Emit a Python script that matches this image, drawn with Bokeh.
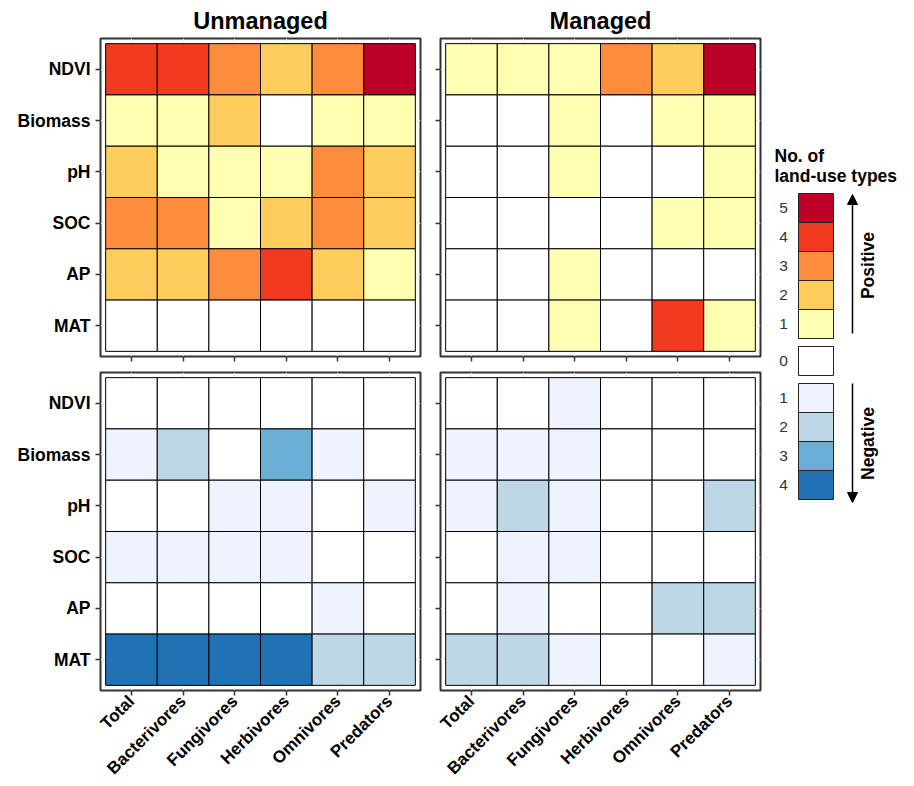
import math
from bokeh.plotting import figure
from bokeh.models import (FactorRange, Range1d, ColumnDataSource, Label, Arrow, NormalHead,
                          CustomLabelingPolicy)
from bokeh.layouts import row, column
from bokeh.embed import file_html
from bokeh.resources import INLINE

# ---------------- data ----------------
groups = ["Total", "Bacterivores", "Fungivores", "Herbivores", "Omnivores", "Predators"]
drivers = ["NDVI", "Biomass", "pH", "SOC", "AP", "MAT"]

# rows follow `drivers`, columns follow `groups`
unmanaged_pos = [
    [4, 4, 3, 2, 3, 5],
    [1, 1, 2, 0, 1, 1],
    [2, 1, 1, 1, 3, 2],
    [3, 3, 1, 2, 3, 2],
    [2, 2, 3, 4, 2, 1],
    [0, 0, 0, 0, 0, 0],
]
managed_pos = [
    [1, 1, 1, 3, 2, 5],
    [0, 0, 1, 0, 1, 1],
    [0, 0, 1, 0, 0, 1],
    [0, 0, 0, 0, 1, 1],
    [0, 0, 1, 0, 0, 0],
    [0, 0, 1, 0, 4, 1],
]
unmanaged_neg = [
    [0, 0, 0, 0, 0, 0],
    [1, 2, 0, 3, 1, 0],
    [0, 0, 1, 1, 0, 1],
    [1, 1, 1, 1, 0, 0],
    [0, 0, 0, 0, 1, 0],
    [4, 4, 4, 4, 2, 2],
]
managed_neg = [
    [0, 0, 1, 0, 0, 0],
    [1, 1, 1, 0, 0, 0],
    [1, 2, 1, 0, 0, 2],
    [0, 1, 1, 0, 0, 0],
    [0, 1, 0, 0, 2, 2],
    [2, 2, 1, 0, 0, 1],
]

pos_colors = ["#ffffff", "#ffffb2", "#fecc5c", "#fd8d3c", "#f03b20", "#bd0026"]  # 0..5
neg_colors = ["#ffffff", "#eff3ff", "#bdd7e7", "#6baed6", "#2171b5"]  # 0..4

pos_levels = [5, 4, 3, 2, 1]
zero_level = [0]
neg_levels = [1, 2, 3, 4]

panel_titles = ["Unmanaged", "Managed"]
legend_title = ["No. of", "land-use types"]
arrow_labels = ["Positive", "Negative"]

FONT = "Liberation Sans"
FW, FH = 320, 318

hide_labels = CustomLabelingPolicy(code="""
    for (const i of indices) { indices.unset(i) }
    return indices
""")


def panel(mat, palette, title=None, xlabels=False, ylabels=False,
          top=0, bottom=0, left=0, right=0):
    xs, ys, cs = [], [], []
    for i, d in enumerate(drivers):
        for j, g in enumerate(groups):
            xs.append(g)
            ys.append(d)
            cs.append(palette[mat[i][j]])
    src = ColumnDataSource(dict(x=xs, y=ys, c=cs))
    p = figure(
        x_range=FactorRange(factors=groups, range_padding=0.1, range_padding_units="absolute"),
        y_range=FactorRange(factors=drivers[::-1], range_padding=0.1, range_padding_units="absolute"),
        frame_width=FW, frame_height=FH,
        min_border_top=top, min_border_bottom=bottom,
        min_border_left=left, min_border_right=right,
        toolbar_location=None, output_backend="svg", title=title,
    )
    p.rect(x="x", y="y", width=1, height=1, fill_color="c", line_color="black",
           line_width=1, source=src)
    p.outline_line_color = "#333333"
    p.outline_line_width = 2
    p.background_fill_color = "white"
    p.border_fill_color = "white"
    p.grid.grid_line_color = "#ebebeb"
    p.grid.grid_line_width = 1
    for ax in (p.xaxis[0], p.yaxis[0]):
        ax.axis_line_color = None
        ax.major_tick_in = 0
        ax.major_tick_out = 5
        ax.major_tick_line_color = "#333333"
        ax.major_tick_line_width = 1.5
        ax.minor_tick_line_color = None
        ax.major_label_text_font = FONT
        ax.major_label_text_font_style = "bold"
        ax.major_label_text_color = "black"
        ax.major_label_text_font_size = "17px"
        ax.major_label_standoff = 5
    p.yaxis[0].major_label_text_font_size = "17.5px"
    if xlabels:
        p.xaxis[0].major_label_orientation = math.pi / 4
        p.xaxis[0].major_label_standoff = 3
    else:
        p.xaxis[0].major_label_text_font_size = "1px"
        p.xaxis[0].major_label_standoff = 0
        p.xaxis[0].major_label_policy = hide_labels
    if not ylabels:
        p.yaxis[0].major_label_text_font_size = "1px"
        p.yaxis[0].major_label_standoff = 0
        p.yaxis[0].major_label_policy = hide_labels
    if title:
        p.title.align = "center"
        p.title.text_font = FONT
        p.title.text_font_style = "bold"
        p.title.text_font_size = "23.5px"
        p.title.text_color = "black"
        p.title.standoff = 10
    return p


tl = panel(unmanaged_pos, pos_colors, panel_titles[0], False, True, top=38, bottom=8, left=100, right=3)
tr = panel(managed_pos, pos_colors, panel_titles[1], False, False, top=38, bottom=8, left=17, right=3)
bl = panel(unmanaged_neg, neg_colors, None, True, True, top=7, bottom=90, left=100, right=3)
br = panel(managed_neg, neg_colors, None, True, False, top=7, bottom=90, left=17, right=3)

# ---------------- legend ----------------
LW, LH = 145, 778
leg = figure(width=LW, height=LH, x_range=Range1d(0, LW), y_range=Range1d(LH, 0),
             min_border=0, toolbar_location=None, output_backend="svg")
leg.axis.visible = False
leg.grid.visible = False
leg.outline_line_color = None

key_x = 52.5
key_w, key_h = 35, 29
pos_y = [193 + key_h / 2 + k * key_h for k in range(len(pos_levels))]
zero_y = [346 + key_h / 2]
neg_y = [383 + key_h / 2 + k * key_h for k in range(len(neg_levels))]

all_y = pos_y + zero_y + neg_y
all_c = [pos_colors[v] for v in pos_levels] + [pos_colors[0]] + [neg_colors[v] for v in neg_levels]
all_t = [str(v) for v in pos_levels + zero_level + neg_levels]
lsrc = ColumnDataSource(dict(x=[key_x] * len(all_y), y=all_y, c=all_c, t=all_t,
                             tx=[20] * len(all_y)))
leg.rect(x="x", y="y", width=key_w, height=key_h, fill_color="c", line_color="#222222",
         line_width=1, source=lsrc)
leg.text(x="tx", y="y", text="t", text_align="center", text_baseline="middle",
         text_font_size="15.5px", text_color="#333333", source=lsrc,
         text_font={"value": FONT})

leg.add_layout(Label(x=11, y=155, text=legend_title[0], text_font=FONT, text_font_style="bold",
                     text_font_size="17.5px", text_color="black", text_baseline="alphabetic"))
leg.add_layout(Label(x=11, y=175, text=legend_title[1], text_font=FONT, text_font_style="bold",
                     text_font_size="17.5px", text_color="black", text_baseline="alphabetic"))

leg.add_layout(Arrow(end=NormalHead(size=10, fill_color="black", line_color="black"),
                     x_start=89, y_start=333, x_end=89, y_end=194,
                     line_color="black", line_width=1.5))
leg.add_layout(Arrow(end=NormalHead(size=10, fill_color="black", line_color="black"),
                     x_start=89, y_start=383, x_end=89, y_end=502,
                     line_color="black", line_width=1.5))
leg.add_layout(Label(x=104, y=265, text=arrow_labels[0], angle=math.pi / 2, text_font=FONT,
                     text_font_style="bold", text_font_size="17.5px", text_color="black",
                     text_align="center", text_baseline="middle"))
leg.add_layout(Label(x=104, y=443, text=arrow_labels[1], angle=math.pi / 2, text_font=FONT,
                     text_font_style="bold", text_font_size="17.5px", text_color="black",
                     text_align="center", text_baseline="middle"))

layout = row(column(row(tl, tr), row(bl, br)), leg)

open("out.html", "w").write(file_html(layout, INLINE))
